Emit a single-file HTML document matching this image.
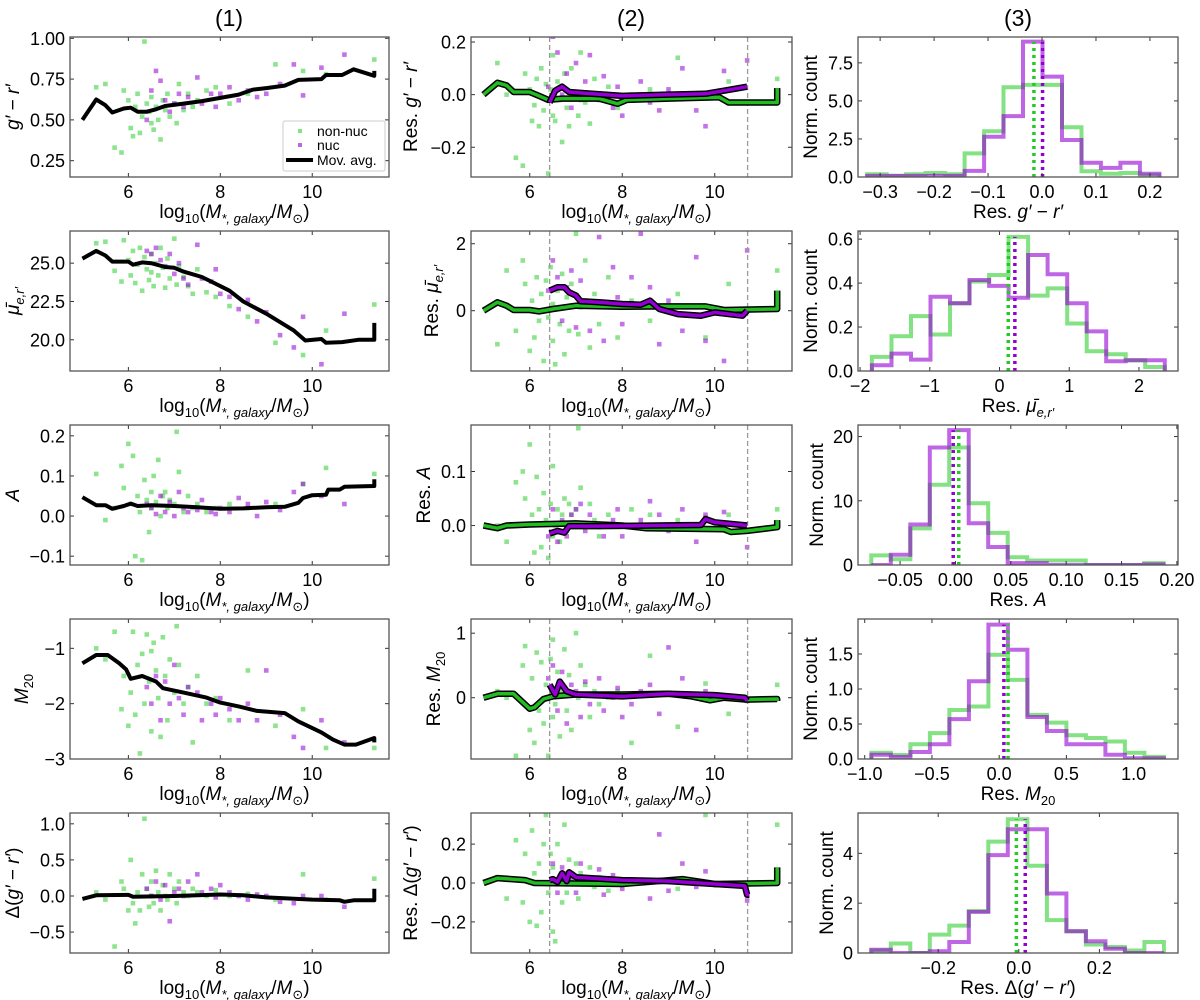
<!DOCTYPE html>
<html><head><meta charset="utf-8"><style>
html,body{margin:0;padding:0;background:#fff;}
svg{display:block;font-family:"Liberation Sans","DejaVu Sans",sans-serif;}
</style></head><body>
<svg id="fig" width="1200" height="1000" viewBox="0 0 1200 1000" xmlns="http://www.w3.org/2000/svg">
<rect width="1200" height="1000" fill="#fff"/>
<text x="229" y="26" font-size="23" text-anchor="middle">(1)</text>
<text x="631" y="26" font-size="23" text-anchor="middle">(2)</text>
<text x="1018" y="26" font-size="23" text-anchor="middle">(3)</text>
</svg>
<script>
// ---- shared galaxy masses ----
const greenX=[5.3,5.5,5.7,5.85,5.9,6.0,6.05,6.1,6.15,6.2,6.25,6.3,6.35,6.4,6.45,6.5,6.5,6.55,6.6,6.65,6.7,6.75,6.8,6.85,6.9,7.0,7.05,7.1,7.2,7.3,7.4,7.5,7.7,7.9,8.2,8.6,9.2,9.8,10.3,11.35];
const purpleX=[6.4,6.5,6.6,6.7,6.8,6.9,7.0,7.1,7.2,7.3,7.5,7.6,7.8,7.9,8.0,8.2,8.4,8.6,8.8,9.0,9.3,9.6,9.8,10.2,10.7];
// column 1 scatter y values
const c1GreenY=[
[0.70,0.72,0.33,0.30,0.68,0.62,0.45,0.40,0.58,0.66,0.42,0.52,0.98,0.60,0.55,0.48,0.64,0.44,0.58,0.50,0.38,0.62,0.56,0.66,0.52,0.60,0.48,0.72,0.56,0.66,0.58,0.62,0.68,0.70,0.60,0.66,0.84,0.80,0.78,0.87],
[26.3,26.4,24.5,23.8,26.5,25.2,24.2,25.8,23.7,24.9,26.0,23.2,25.4,24.6,23.9,25.6,24.4,23.5,25.0,24.2,26.0,24.7,23.4,25.3,24.0,26.6,23.6,24.8,24.1,23.5,23.0,24.6,23.1,22.8,22.2,21.5,19.8,19.0,20.6,22.3],
[0.105,-0.01,0.02,0.125,0.07,0.18,0.03,0.15,-0.1,0.05,0.01,-0.11,0.09,0.04,-0.04,0.06,0.02,0.1,0.035,0.14,0.0,0.05,0.06,0.02,0.04,0.03,0.21,0.11,0.01,0.05,0.02,0.03,0.01,0.02,0.03,0.02,0.03,0.08,0.12,0.105],
[-1.0,-1.2,-0.7,-2.1,-1.5,-2.4,-1.8,-0.7,-2.2,-1.3,-2.9,-1.1,-2.0,-0.75,-1.6,-1.05,-2.5,-0.9,-1.4,-1.9,-2.6,-0.8,-1.5,-2.3,-1.2,-1.8,-0.6,-1.3,-2.0,-1.7,-2.7,-1.5,-2.0,-1.9,-2.3,-1.4,-2.4,-2.1,-2.8,-2.8],
[0.05,-0.05,-0.7,0.2,0.1,-0.2,0.5,-0.1,-0.38,0.05,-0.2,0.3,1.07,0.1,-0.15,0.2,0.0,-0.1,0.35,0.05,-0.2,0.15,0.0,-0.05,0.3,0.1,-0.1,0.2,0.05,0.0,0.1,0.05,0.0,0.08,0.0,0.03,-0.05,0.3,-0.05,0.24]];
const c1PurpleY=[
[0.50,0.68,0.80,0.74,0.62,0.55,0.60,0.66,0.58,0.64,0.76,0.60,0.66,0.58,0.66,0.70,0.62,0.68,0.64,0.66,0.72,0.84,0.65,0.82,0.90],
[25.8,25.6,26.0,25.2,24.8,25.6,24.3,25.0,24.0,23.6,26.2,24.0,23.8,24.6,23.0,22.8,22.0,22.6,21.2,21.8,20.3,19.5,21.5,18.4,21.7],
[0.03,0.02,0.005,0.05,0.01,0.035,0.0,0.06,0.02,0.01,0.015,0.04,0.01,0.005,0.02,0.01,0.045,0.03,0.0,0.035,0.015,0.06,0.08,0.05,0.03],
[-1.7,-2.0,-1.5,-2.3,-1.6,-2.0,-1.3,-1.9,-2.2,-1.7,-1.8,-2.3,-2.0,-2.2,-1.9,-2.1,-2.3,-2.0,-2.3,-1.4,-2.2,-2.6,-2.8,-2.3,-2.7],
[0.1,0.0,0.2,-0.05,0.15,-0.35,0.05,0.1,0.0,0.2,0.3,0.05,0.1,-0.02,0.15,0.05,0.0,-0.05,0.02,0.0,-0.08,-0.1,0.0,0.0,-0.15]];
// column 1 moving averages
const movAvgX=[
[5.0,5.3,5.5,5.65,5.9,6.05,6.2,6.4,6.6,6.8,7.2,7.6,8.0,8.4,8.7,9.0,9.4,9.7,10.2,10.3,10.65,10.9,11.35,11.35],
[5.0,5.3,5.5,5.65,6.0,6.1,6.3,6.5,6.8,7.0,7.2,7.6,7.8,8.2,8.5,9.0,9.6,9.85,10.2,10.3,10.65,11.0,11.35,11.35],
[5.0,5.3,5.5,5.65,5.9,6.05,6.2,6.5,7.0,7.5,8.0,8.5,9.0,9.4,9.7,9.8,10.0,10.3,10.35,10.6,10.7,11.35,11.35],
[5.0,5.3,5.55,5.8,5.95,6.05,6.3,6.6,6.75,7.2,7.7,8.0,8.4,8.8,9.4,9.7,10.2,10.45,10.7,10.95,11.35,11.35],
[5.0,5.3,6.0,6.1,7.0,8.0,8.5,9.0,10.0,10.6,10.7,10.9,11.35,11.35]];
const movAvgY=[
[0.50,0.625,0.59,0.545,0.57,0.575,0.55,0.55,0.565,0.585,0.60,0.615,0.635,0.655,0.685,0.695,0.71,0.745,0.75,0.775,0.775,0.81,0.77,0.80],
[25.3,25.8,25.5,25.1,25.1,24.9,25.05,25.0,24.75,24.7,24.45,24.1,23.8,23.2,22.5,21.7,20.6,19.95,20.05,19.8,19.85,20.0,20.0,21.1],
[0.047,0.027,0.027,0.018,0.025,0.031,0.025,0.027,0.025,0.022,0.018,0.019,0.022,0.023,0.033,0.045,0.052,0.053,0.066,0.066,0.073,0.075,0.092],
[-1.27,-1.12,-1.12,-1.27,-1.38,-1.55,-1.50,-1.6,-1.72,-1.8,-1.89,-1.98,-2.05,-2.13,-2.17,-2.32,-2.52,-2.65,-2.74,-2.74,-2.62,-2.7],
[-0.04,0.01,0.015,-0.01,0.0,0.02,0.01,-0.02,-0.05,-0.06,-0.08,-0.06,-0.06,0.1]];
// column 2 residual scatter
const c2GreenY=[
[0.12,0.0,-0.24,-0.27,0.08,0.02,-0.1,-0.04,0.06,-0.12,0.1,-0.06,0.04,-0.3,0.02,-0.08,0.15,-0.1,0.05,-0.02,-0.18,0.08,-0.05,-0.12,0.1,0.0,-0.08,0.16,-0.03,-0.11,0.06,-0.02,0.03,-0.05,0.0,0.02,0.14,-0.01,0.05,0.06],
[-1.0,1.2,-0.6,1.5,0.8,-1.2,0.3,-0.8,1.0,-0.3,0.5,-1.5,0.9,-0.2,1.3,-0.9,0.2,-1.6,0.6,-0.4,1.1,-1.3,0.4,-0.6,0.8,2.3,-0.7,0.1,1.5,-1.1,0.5,-0.4,1.0,-0.8,0.3,-0.3,0.5,-0.8,0.8,1.2],
[0.0,-0.03,0.08,0.10,0.05,0.15,0.02,-0.05,0.09,0.03,-0.04,0.06,0.01,-0.06,0.04,-0.02,0.11,0.0,0.03,-0.03,0.02,0.05,-0.01,0.04,0.02,0.03,0.18,0.07,0.0,0.04,0.01,-0.02,0.02,0.0,0.03,0.02,0.01,0.015,0.02,0.03],
[0.1,0.0,-0.9,0.5,0.8,-0.5,0.3,-0.7,0.7,-0.2,0.55,-0.4,0.2,-0.9,0.6,-0.3,0.9,-0.1,0.4,-0.6,0.1,0.75,-0.2,0.35,-0.5,1.0,0.0,0.5,0.2,-0.3,0.1,-0.1,0.0,0.1,-0.7,0.65,-0.45,0.22,-0.25,0.2],
[0.03,-0.08,0.22,-0.1,0.15,-0.2,0.27,0.05,-0.22,0.1,-0.15,0.2,0.35,-0.05,0.15,-0.25,0.08,-0.3,0.2,0.0,-0.1,0.3,-0.05,0.12,0.05,0.1,-0.08,0.05,0.0,0.08,-0.02,0.03,-0.04,0.02,0.0,0.01,-0.03,0.35,0.0,0.3]];
const c2PurpleY=[
[0.03,0.22,0.16,0.0,0.08,-0.05,0.12,-0.02,0.05,0.15,-0.02,0.07,-0.05,0.03,-0.08,0.0,0.05,-0.03,-0.06,0.02,0.1,-0.06,-0.12,0.09,0.13],
[0.6,1.5,1.0,-0.3,0.7,1.2,-0.5,0.9,0.3,-0.6,2.2,-0.9,1.3,0.4,-0.4,1.0,2.3,0.7,-1.0,0.3,-0.6,1.6,-0.9,-1.5,1.8],
[-0.02,0.03,-0.03,0.01,-0.02,0.02,0.03,0.04,-0.01,0.02,0.0,-0.02,0.01,0.03,-0.02,0.0,0.01,0.045,0.02,-0.01,0.03,-0.03,0.02,0.025,-0.04],
[0.3,0.5,-0.2,0.4,-0.4,0.2,0.1,-0.3,0.25,-0.1,0.3,-0.2,0.0,0.15,-0.3,-0.1,0.1,0.2,-0.25,0.78,0.3,-0.5,0.1,0.0,-0.05],
[0.0,0.1,-0.05,0.08,0.05,0.02,-0.05,0.1,0.03,0.0,0.07,-0.06,0.04,0.0,-0.03,0.01,0.0,-0.08,0.25,-0.04,0.1,-0.02,0.06,0.0,-0.09]];
// column 2 residual moving averages
const resGreenLineX=[
[5.0,5.3,5.5,5.65,6.0,6.2,6.4,6.7,7.5,7.9,8.1,9.0,10.1,10.3,11.35,11.35],
[5.0,5.3,5.5,5.65,6.0,6.2,6.5,7.0,8.0,9.0,9.8,10.2,11.35,11.35],
[5.0,5.3,5.5,6.0,7.0,8.0,8.5,10.2,10.35,10.7,11.35,11.35],
[5.0,5.3,5.65,6.0,6.1,6.3,6.5,7.0,8.0,9.0,9.5,9.9,10.2,10.7,11.35,11.35],
[5.0,5.3,5.9,6.1,8.0,9.3,10.0,11.35,11.35]];
const resGreenLineY=[
[0.0,0.045,0.035,0.01,0.01,-0.005,-0.02,-0.015,-0.015,-0.035,-0.02,-0.015,-0.01,-0.03,-0.03,0.025],
[0,0.25,0.15,0.02,0.02,-0.02,0.05,0.15,0.12,0.13,0.13,0.02,0.05,0.6],
[0,-0.005,0.0,0.002,0.004,0.0,-0.005,-0.007,-0.012,-0.01,-0.003,0.01],
[0,0.06,0.06,-0.17,-0.15,-0.02,0.02,0.05,0.05,0.06,0.02,-0.04,0.0,-0.03,-0.02,-0.05],
[0,0.025,0.015,0.0,-0.005,0.02,-0.005,0.0,0.08]];
const resPurpleLineX=[
[6.43,6.55,6.7,6.85,7.2,8.0,9.0,9.8,10.2,10.7],
[6.43,6.6,6.75,6.85,7.0,7.1,7.5,8.0,8.4,8.6,8.8,9.2,9.7,10.0,10.6,10.7],
[6.43,6.6,6.75,6.85,7.5,9.7,9.8,10.0,10.7],
[6.43,6.55,6.65,6.8,7.0,8.0,9.0,10.0,10.65,10.7],
[6.43,6.5,6.6,6.7,6.8,6.85,7.0,8.0,9.0,10.0,10.65,10.7,10.75]];
const resPurpleLineY=[
[-0.03,0.015,0.03,0.01,0.005,-0.005,0.0,0.003,0.015,0.03],
[0.6,0.7,0.7,0.55,0.45,0.28,0.25,0.2,0.18,0.3,0.05,-0.1,-0.15,-0.05,-0.15,0.0],
[-0.015,-0.01,-0.013,-0.001,-0.001,0.001,0.012,0.006,0.0],
[0.2,0.05,0.25,0.1,0.05,0.02,0.06,0.04,0.0,-0.05],
[0.015,0.02,0.005,0.05,0.01,0.055,0.03,0.015,0.01,-0.005,-0.015,-0.06,-0.06]];
const cutLow=6.43, cutHigh=10.71;
// column 3 histograms (15 bins each)
const histStart=[-0.324,-1.83,-0.076,-0.95,-0.366];
const histWidth=[0.0361,0.28,0.0176,0.145,0.0484];
const histGreen=[
[0.18,0.07,0.18,0.26,0.18,1.55,3.0,5.9,6.05,6.05,3.27,0.38,0.22,0.26,0.11],
[0.064,0.158,0.25,0.166,0.308,0.407,0.437,0.61,0.343,0.376,0.216,0.09,0.076,0.049,0.018],
[1.5,0.9,5.7,12.5,18.3,9.6,5.0,1.2,0.7,0.7,0.7,0,0,0,0.3],
[0.09,0.057,0.21,0.37,0.70,0.75,1.49,1.13,0.63,0.52,0.34,0.30,0.25,0.09,0.03],
[0.1,0.38,0,0.74,1.1,1.68,4.47,5.37,3.5,1.32,0.87,0.34,0.24,0.1,0.44]];
const histPurple=[
[0.07,0.07,0.07,0.07,0.07,0.4,2.65,4.0,8.9,6.6,2.43,0.93,0.6,0.93,0.22],
[0.026,0.079,0.052,0.338,0.308,0.414,0.387,0.333,0.528,0.44,0.308,0.18,0.044,0.049,0.049],
[0,1.6,6.3,18.3,21,6.5,2.8,0.3,0.3,0,0,0,0,0,0.1],
[0.06,0.03,0.10,0.21,0.57,1.11,1.92,1.56,0.6,0.40,0.21,0.21,0.06,0.01,0.01],
[0.13,0,0,0.07,0.44,1.65,3.93,4.97,4.97,2.39,0.87,0.47,0.17,0,0]];
const medianGreen=[-0.015,0.125,0.003,0.066,-0.006];
const medianPurple=[0.001,0.22,-0.002,0.035,0.016];
// tick labels
const massTicks=[6,8,10];
const c1YTicks=[[0.25,0.5,0.75,1.0],[20,22.5,25],[-0.1,0,0.1,0.2],[-3,-2,-1],[-0.5,0,0.5,1.0]];
const c1YDec=[2,1,1,0,1];
const c2YTicks=[[-0.2,0,0.2],[0,2],[0,0.1],[0,1],[-0.2,0,0.2]];
const c2YDec=[1,0,1,0,1];
const c3XTicks=[[-0.3,-0.2,-0.1,0,0.1,0.2],[-2,-1,0,1,2],[-0.05,0,0.05,0.1,0.15,0.2],[-1,-0.5,0,0.5,1.0],[-0.2,0,0.2]];
const c3XDec=[1,0,2,1,1];
const c3YTicks=[[0,2.5,5,7.5],[0,0.2,0.4,0.6],[0,10,20],[0,0.5,1,1.5],[0,2,4]];
const c3YDec=[1,1,0,1,0];

// ---- layout ----
const rowTop=[37,231,425,619,813], H=140;
const colLeft=[70,471,858], W=[319,321,320];
const c1Range=[[0.15,1.008],[17.96,27.1],[-0.122,0.227],[-3.0,-0.47],[-0.79,1.15]];
const c2Range=[[-0.313,0.219],[-1.8,2.38],[-0.073,0.186],[-0.95,1.22],[-0.36,0.36]];
const c3XRange=[[-0.341,0.252],[-2.03,2.56],[-0.088,0.201],[-1.05,1.33],[-0.399,0.395]];
const c3YRange=[[0,9.2],[0,0.637],[0,21.8],[0,2.0],[0,5.62]];
const massRange=[4.73,11.67];
const GREEN='#32cd32', PURPLE='#9400d3';
const NS='http://www.w3.org/2000/svg';
const svg=document.getElementById('fig');
function mk(tag,at,parent){const e=document.createElementNS(NS,tag);for(const k in at)e.setAttribute(k,at[k]);(parent||svg).appendChild(e);return e;}
function fmt(v,d){return v.toFixed(d).replace('-','\u2212');}
function axes(L,T,w,h,xr,yr){
  const sx=v=>L+(v-xr[0])/(xr[1]-xr[0])*w;
  const sy=v=>T+h-(v-yr[0])/(yr[1]-yr[0])*h;
  return {sx,sy};
}
function frame(g,L,T,w,h,sx,sy,xt,xd,yt,yd){
  for(const v of xt){const x=sx(v);
    const t1=mk('line',{x1:x,y1:T+h,x2:x,y2:T+h-4,stroke:'#333','stroke-width':1},g);
    
    
    mk('line',{x1:x,y1:T,x2:x,y2:T+4,stroke:'#333','stroke-width':1},g);
    const tl=mk('text',{x:x,y:T+h+21,'font-size':18,'text-anchor':'middle'},g);
    
    
    tl.textContent=fmt(v,xd);}
  for(const v of yt){const y=sy(v);
    const t2=mk('line',{x1:L,y1:y,x2:L+4,y2:y,stroke:'#333','stroke-width':1},g);
    
    
    mk('line',{x1:L+w,y1:y,x2:L+w-4,y2:y,stroke:'#333','stroke-width':1},g);
    const tl=mk('text',{x:L-5,y:y+6.5,'font-size':18,'text-anchor':'end'},g);
    
    
    tl.textContent=fmt(v,yd);}
  const b=mk('rect',{x:L,y:T,width:w,height:h,fill:'none',stroke:'#555','stroke-width':1.3},g);
  
  
}
function clip(id,L,T,w,h){const c=mk('clipPath',{id:id});mk('rect',{x:L,y:T,width:w,height:h},c);}
function pathD(xs,ys,sx,sy){return xs.map((v,i)=>(i?'L':'M')+sx(v).toFixed(1)+','+sy(ys[i]).toFixed(1)).join(' ');}
function scatter(g,xs,ys,sx,sy,col,name){
  xs.forEach((v,i)=>{const r=mk('rect',{x:sx(v)-2.3,y:sy(ys[i])-2.3,width:4.6,height:4.6,fill:col,'fill-opacity':0.55},g);
    
    });
}
const massLabel='log<tspan font-size="13" dy="5">10</tspan><tspan dy="-5">(</tspan><tspan font-style="italic">M</tspan><tspan font-size="13" font-style="italic" dy="5">*, galaxy</tspan><tspan dy="-5">/</tspan><tspan font-style="italic">M</tspan><tspan font-size="13" dy="5">⊙</tspan><tspan dy="-5">)</tspan>';
const qty=['<tspan font-style="italic">g′</tspan> − <tspan font-style="italic">r′</tspan>',
 '<tspan font-style="italic">μ̄</tspan><tspan font-size="13" font-style="italic" dy="5">e,r′</tspan><tspan dy="-5"> </tspan>',
 '<tspan font-style="italic">A</tspan>',
 '<tspan font-style="italic">M</tspan><tspan font-size="13" dy="5">20</tspan><tspan dy="-5"> </tspan>',
 'Δ(<tspan font-style="italic">g′</tspan> − <tspan font-style="italic">r′</tspan>)'];
function label(g,x,y,html,rot,name){
  const t=mk('text',{x:x,y:y,'font-size':19,'text-anchor':'middle',transform:rot?`rotate(-90 ${x} ${y})`:''},g);
  
  
  t.innerHTML=html;
}
const c1YLabelX=[19,19,19,28,19], c2YLabelX=[417,438,430,440,417];
const c3YLabelX=[817,817,823,817,833];

for(let r=0;r<5;r++){
  const T=rowTop[r];
  // ---- column 1 ----
  {const L=colLeft[0],w=W[0];const g=mk('g',{});
   
   
   clip('cp1'+r,L,T,w,H);
   const {sx,sy}=axes(L,T,w,H,massRange,c1Range[r]);
   const d=mk('g',{'clip-path':`url(#cp1${r})`},g);
   scatter(d,greenX,c1GreenY[r],sx,sy,GREEN,'non-nuc-point');
   scatter(d,purpleX,c1PurpleY[r],sx,sy,PURPLE,'nuc-point');
   const p=mk('path',{d:pathD(movAvgX[r],movAvgY[r],sx,sy),fill:'none',stroke:'#000','stroke-width':4,'stroke-linejoin':'round'},d);
   
   
   frame(g,L,T,w,H,sx,sy,massTicks,0,c1YTicks[r],c1YDec[r]);
   label(g,L+w/2+5,T+H+41,massLabel,false,'x-axis-title');
   label(g,c1YLabelX[r],T+H/2,qty[r],true,'y-axis-title');
  }
  // ---- column 2 ----
  {const L=colLeft[1],w=W[1];const g=mk('g',{});
   
   
   clip('cp2'+r,L,T,w,H);
   const {sx,sy}=axes(L,T,w,H,massRange,c2Range[r]);
   const d=mk('g',{'clip-path':`url(#cp2${r})`},g);
   scatter(d,greenX,c2GreenY[r],sx,sy,GREEN,'non-nuc-residual-point');
   scatter(d,purpleX,c2PurpleY[r],sx,sy,PURPLE,'nuc-residual-point');
   for(const c of [cutLow,cutHigh]){const l=mk('line',{x1:sx(c),y1:T,x2:sx(c),y2:T+H,stroke:'#999','stroke-width':1.3,'stroke-dasharray':'5 3'},d);
     
     }
   const gd=pathD(resGreenLineX[r],resGreenLineY[r],sx,sy);
   mk('path',{d:gd,fill:'none',stroke:'#000','stroke-width':6.5,'stroke-linejoin':'round'},d);
   const gl=mk('path',{d:gd,fill:'none',stroke:'#22bb22','stroke-width':3.5,'stroke-linejoin':'round'},d);
   
   
   const pd=pathD(resPurpleLineX[r],resPurpleLineY[r],sx,sy);
   mk('path',{d:pd,fill:'none',stroke:'#000','stroke-width':6.5,'stroke-linejoin':'round'},d);
   const pl=mk('path',{d:pd,fill:'none',stroke:PURPLE,'stroke-width':3.5,'stroke-linejoin':'round'},d);
   
   
   frame(g,L,T,w,H,sx,sy,massTicks,0,c2YTicks[r],c2YDec[r]);
   label(g,L+w/2+5,T+H+41,massLabel,false,'x-axis-title');
   label(g,c2YLabelX[r],T+H/2,'Res. '+qty[r],true,'y-axis-title');
  }
  // ---- column 3 ----
  {const L=colLeft[2],w=W[2];const g=mk('g',{});
   
   
   clip('cp3'+r,L,T,w,H);
   const {sx,sy}=axes(L,T,w,H,c3XRange[r],c3YRange[r]);
   const d=mk('g',{'clip-path':`url(#cp3${r})`},g);
   function step(counts){let s='M'+sx(histStart[r]).toFixed(1)+','+sy(0).toFixed(1);
     counts.forEach((c,i)=>{const x0=sx(histStart[r]+i*histWidth[r]),x1=sx(histStart[r]+(i+1)*histWidth[r]);
       s+=' L'+x0.toFixed(1)+','+sy(c).toFixed(1)+' L'+x1.toFixed(1)+','+sy(c).toFixed(1);});
     s+=' L'+sx(histStart[r]+counts.length*histWidth[r]).toFixed(1)+','+sy(0).toFixed(1);return s;}
   const hg=mk('path',{d:step(histGreen[r]),fill:'none',stroke:GREEN,'stroke-opacity':0.6,'stroke-width':4},d);
   
   
   const hp=mk('path',{d:step(histPurple[r]),fill:'none',stroke:PURPLE,'stroke-opacity':0.6,'stroke-width':4},d);
   
   
   const yTop=sy(Math.max(...histGreen[r],...histPurple[r]));
   const mg=mk('line',{x1:sx(medianGreen[r]),y1:T+H,x2:sx(medianGreen[r]),y2:yTop,stroke:'#22cc22','stroke-width':3.5,'stroke-dasharray':'3 4'},d);
   
   
   const mp=mk('line',{x1:sx(medianPurple[r]),y1:T+H,x2:sx(medianPurple[r]),y2:yTop,stroke:PURPLE,'stroke-width':3.5,'stroke-dasharray':'3 4'},d);
   
   
   frame(g,L,T,w,H,sx,sy,c3XTicks[r],c3XDec[r],c3YTicks[r],c3YDec[r]);
   label(g,L+w/2,T+H+41,'Res. '+qty[r],false,'x-axis-title');
   label(g,c3YLabelX[r],T+H/2,'Norm. count',true,'y-axis-title');
  }
}
// legend in panel 1
const lg=mk('g',{});


mk('rect',{x:283,y:121,width:102,height:50,fill:'#fff','fill-opacity':0.85,stroke:'#ccc','stroke-width':1,rx:2},lg);
const e1=mk('rect',{x:298,y:129,width:4,height:4,fill:GREEN,'fill-opacity':0.6},lg);


const e2=mk('rect',{x:298,y:143,width:4,height:4,fill:PURPLE,'fill-opacity':0.6},lg);


const e3=mk('line',{x1:286,y1:160,x2:313,y2:160,stroke:'#000','stroke-width':4},lg);


[['non-nuc',136],['nuc',150],['Mov. avg.',165]].forEach(([s,y])=>{const t=mk('text',{x:317,y:y,'font-size':14},lg);
  
  
  t.textContent=s;});
</script>
</body></html>
